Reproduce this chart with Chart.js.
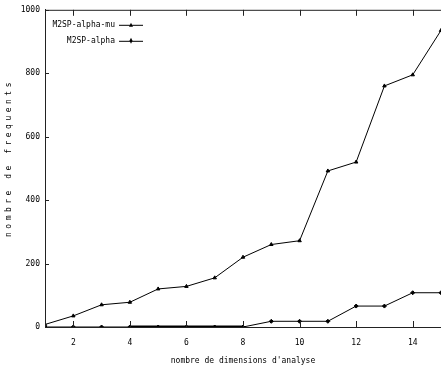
<!DOCTYPE html>
<html>
<head>
<meta charset="utf-8">
<script src="https://cdn.jsdelivr.net/npm/chart.js@4/dist/chart.umd.min.js"></script>
<style>
  html, body { margin: 0; padding: 0; background: #fff; overflow: hidden; }
  #wrap { width: 446px; height: 370px; }
</style>
</head>
<body>
<div id="wrap"><canvas id="myChart" width="446" height="370"></canvas></div>
<script>
const dims = [1, 2, 3, 4, 5, 6, 7, 8, 9, 10, 11, 12, 13, 14, 15];
const alphaMu = [8, 35, 70, 78, 120, 128, 155, 220, 260, 272, 492, 520, 760, 795, 935];
const alpha = [0, 0, 0, 0, 0, 0, 0, 0, 18, 18, 18, 66, 66, 108, 108];
const xTicks = [2, 4, 6, 8, 10, 12, 14];
const yTicks = [0, 200, 400, 600, 800, 1000];

const FONT = '"DejaVu Sans Mono", monospace';

// frame, inner tick marks, legend and y title
const decor = {
    id: 'decor',
    afterDraw(chart) {
        const ctx = chart.ctx;
        const a = chart.chartArea;
        const xs = chart.scales.x, ys = chart.scales.y;
        ctx.save();
        ctx.strokeStyle = '#222';
        ctx.lineWidth = 1;
        ctx.beginPath();
        ctx.moveTo(a.left + 0.5, a.bottom + 0.5);
        ctx.lineTo(a.left + 0.5, a.top + 0.5);
        ctx.lineTo(a.right + 5, a.top + 0.5);
        xTicks.forEach(v => {
            const px = Math.round(xs.getPixelForValue(v)) + 0.5;
            ctx.moveTo(px, a.bottom); ctx.lineTo(px, a.bottom - 6);
            ctx.moveTo(px, a.top); ctx.lineTo(px, a.top + 6);
        });
        yTicks.forEach(v => {
            const py = Math.round(ys.getPixelForValue(v)) + 0.5;
            ctx.moveTo(a.left, py); ctx.lineTo(a.left + 4, py);
        });
        ctx.stroke();

        // legend inside the plot
        ctx.font = '8px ' + FONT;
        ctx.fillStyle = '#000';
        ctx.textAlign = 'right';
        ctx.textBaseline = 'middle';
        chart.data.datasets.forEach((ds, i) => {
            const y = a.top + 15 + i * 16;
            ctx.fillText(ds.label, a.left + 70, y);
            ctx.beginPath();
            ctx.strokeStyle = '#000';
            ctx.moveTo(a.left + 74, y + 0.5); ctx.lineTo(a.left + 98, y + 0.5);
            ctx.stroke();
            ctx.beginPath();
            if (ds.pointStyle === 'triangle') {
                ctx.moveTo(a.left + 86, y - 2); ctx.lineTo(a.left + 88, y + 2); ctx.lineTo(a.left + 84, y + 2);
            } else {
                ctx.moveTo(a.left + 86, y - 3); ctx.lineTo(a.left + 87.5, y); ctx.lineTo(a.left + 86, y + 3); ctx.lineTo(a.left + 84.5, y);
            }
            ctx.closePath();
            ctx.fill();
        });

        // y title, letter spaced
        ctx.translate(9, 158);
        ctx.rotate(-Math.PI / 2);
        ctx.textAlign = 'center';
        ctx.letterSpacing = '3.5px';
        ctx.fillText('nombre de frequents', 0, 0);
        ctx.restore();
    }
};

document.addEventListener("DOMContentLoaded", function () {
    const ctx = document.getElementById('myChart').getContext('2d');

    const myChart = new Chart(ctx, {
        type: 'line',
        data: {
            labels: dims,
            datasets: [{
                label: 'M2SP-alpha-mu',
                data: dims.map((d, i) => ({ x: d, y: alphaMu[i] })),
                borderColor: '#000',
                backgroundColor: '#000',
                borderWidth: 1,
                pointStyle: 'triangle',
                pointRadius: 2,
                tension: 0
            }, {
                label: 'M2SP-alpha',
                data: dims.map((d, i) => ({ x: d, y: alpha[i] })),
                borderColor: '#000',
                backgroundColor: '#000',
                borderWidth: 1,
                pointStyle: 'rectRot',
                pointRadius: 2,
                tension: 0,
                segment: {
                    // the reference has a heavy stroke along zero up to 8
                    borderWidth: c => (c.p0.parsed.x >= 4 && c.p1.parsed.x <= 8) ? 3 : 1
                }
            }]
        },
        options: {
            responsive: false,
            animation: false,
            layout: { padding: { top: 9, right: 2, left: 0, bottom: 0 } },
            plugins: { legend: { display: false }, tooltip: { enabled: false } },
            scales: {
                x: {
                    type: 'linear',
                    min: 1,
                    max: 15,
                    afterBuildTicks: s => { s.ticks = xTicks.map(v => ({ value: v })); },
                    afterFit: s => { s.height = 43; },
                    grid: { display: false, drawTicks: false },
                    border: { color: '#222' },
                    ticks: { font: { family: FONT, size: 8 }, color: '#000', padding: 11, maxRotation: 0 },
                    title: { display: true, text: "nombre de dimensions d'analyse", font: { family: FONT, size: 8 }, color: '#000', padding: { top: 10 } }
                },
                y: {
                    min: 0,
                    max: 1000,
                    afterBuildTicks: s => { s.ticks = yTicks.map(v => ({ value: v })); },
                    afterFit: s => { s.width = 45; },
                    grid: { display: false, drawTicks: false },
                    border: { color: '#222' },
                    ticks: { font: { family: FONT, size: 8 }, color: '#000', padding: 5, callback: v => String(v) }
                }
            }
        },
        plugins: [decor]
    });
});
</script>
</body>
</html>
